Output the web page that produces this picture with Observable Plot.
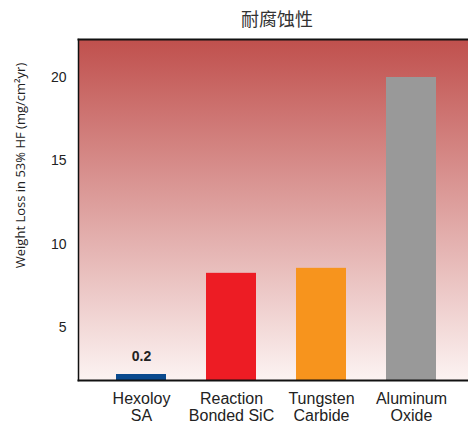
<!DOCTYPE html>
<html><head><meta charset="utf-8">
<script src="https://cdn.jsdelivr.net/npm/d3@7"></script>
<script src="https://cdn.jsdelivr.net/npm/@observablehq/plot@0.6"></script>
<style>
body{margin:0;background:#fff;}
#title{box-sizing:border-box;height:36px;width:468px;padding-left:86px;font-family:"Noto Sans CJK SC","Noto Sans",sans-serif;font-size:18px;color:#333;text-align:center;line-height:36px;}
#chart{width:468px;height:390px;}
</style></head>
<body>
<div id="title">耐腐蚀性</div>
<div id="chart"></div>
<script>
const categories = ["Hexoloy\nSA", "Reaction\nBonded SiC", "Tungsten\nCarbide", "Aluminum\nOxide"];
const values = [0.2, 8.25, 8.55, 20.0];
const valueLabels = ["0.2", "", "", ""];
const colors = ["#0B4A8E", "#ED1C24", "#F7941D", "#999999"];
const yTicks = [5, 10, 15, 20];
const yDomain = [1.82, 22.28];
const yLabel = "Weight Loss in 53% HF (mg/cm²yr)";
const stub = 0.36; // smallest visible bar height when a value falls below the axis floor

const data = categories.map((c, i) => ({
  cat: c, value: values[i], label: valueLabels[i], color: colors[i],
  top: Math.max(values[i], yDomain[0] + stub)
}));

const narrow = "'Liberation Sans Narrow','Arial Narrow','Liberation Sans',sans-serif";

const plot = Plot.plot({
  width: 468, height: 390,
  marginTop: 3, marginBottom: 46, marginLeft: 78, marginRight: 0,
  style: {background: "transparent", fontFamily: narrow},
  x: {domain: categories, range: [76, 476], padding: 0.444, label: null},
  y: {domain: yDomain, label: null},
  marks: [
    Plot.frame({fill: "url(#bgGrad)", stroke: "none"}),
    Plot.rectY(data, {x: "cat", y1: yDomain[0], y2: "top", fill: "color"}),
    Plot.text(data.filter(d => d.label), {x: "cat", y: "top", text: "label", dy: -18, fontWeight: "bold", fontSize: 14, fill: "#222", fontFamily: narrow}),
    Plot.axisY({ticks: yTicks, tickSize: 0, tickPadding: 12, fontSize: 14, fill: "#222", label: null, tickFormat: d => d}),
    Plot.axisX({tickSize: 0, tickPadding: 12, fontSize: 16, lineHeight: 1.03, fill: "#222", label: null}),
    Plot.text([yLabel], {frameAnchor: "left", textAnchor: "middle", lineAnchor: "middle", y: () => 14.72, dx: -58, rotate: -90, fontSize: 13, fill: "#222", fontFamily: "'Open Sans','DejaVu Sans',sans-serif"}),
    Plot.frame({anchor: "left", stroke: "#111", strokeWidth: 1.5}),
    Plot.frame({anchor: "top", stroke: "#111", strokeWidth: 2}),
    Plot.frame({anchor: "bottom", stroke: "#111", strokeWidth: 2})
  ]
});

const ns = "http://www.w3.org/2000/svg";
const defs = document.createElementNS(ns, "defs");
defs.innerHTML = '<linearGradient id="bgGrad" x1="0" y1="0" x2="0" y2="1"><stop offset="0" stop-color="#C0504D"/><stop offset="1" stop-color="#FCF3F2"/></linearGradient>';
plot.insertBefore(defs, plot.firstChild);
document.getElementById("chart").appendChild(plot);
</script>
</body></html>
